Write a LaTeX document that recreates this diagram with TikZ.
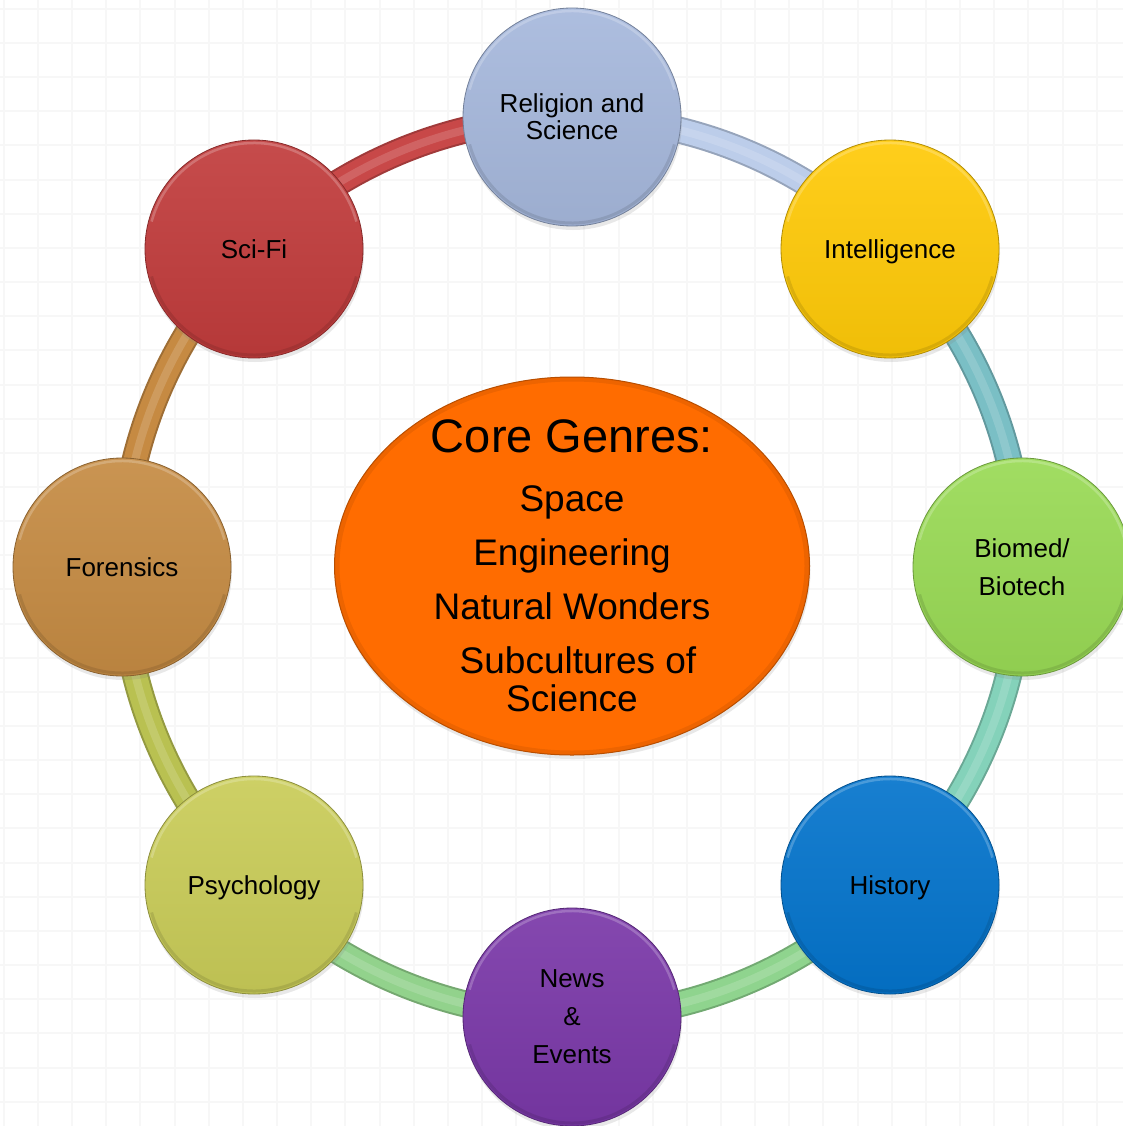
\documentclass[tikz,border=0pt]{standalone}
\usepackage{fontspec}
\setmainfont{Liberation Sans}
\usetikzlibrary{shapes.geometric,shadows}
\definecolor{relc}{HTML}{A6B8DC}
\definecolor{intc}{HTML}{FFCA08}
\definecolor{bioc}{HTML}{99DA55}
\definecolor{hisc}{HTML}{0474CC}
\definecolor{newc}{HTML}{7A38A8}
\definecolor{psyc}{HTML}{C9CC58}
\definecolor{forc}{HTML}{C58B43}
\definecolor{scic}{HTML}{C13C3C}
\definecolor{corec}{HTML}{FF6C00}
\definecolor{arcA}{HTML}{C84848}
\definecolor{arcB}{HTML}{BCCDEA}
\definecolor{arcC}{HTML}{7ABFC5}
\definecolor{arcD}{HTML}{84D2BA}
\definecolor{arcE}{HTML}{8FD48E}
\definecolor{arcF}{HTML}{92D28C}
\definecolor{arcG}{HTML}{B9C151}
\definecolor{arcH}{HTML}{C68A42}
\pgfdeclarelayer{gridlayer}
\pgfdeclarelayer{ringlayer}
\pgfsetlayers{gridlayer,ringlayer,main}
\begin{document}
\begin{tikzpicture}[x=1pt,y=-1pt,
  bub/.style={circle, minimum size=218pt, inner sep=0pt, align=center,
    font=\fontsize{26}{27}\selectfont,
    top color=#1!92!white, bottom color=#1!94!black, draw=#1!70!black, line width=0.8pt,
    drop shadow={opacity=0.18, shadow xshift=1pt, shadow yshift=-4pt},
    path picture={
      \draw[white,opacity=0.22,line width=2.5pt]
        ([shift={(165:106pt)}]path picture bounding box.center)
        arc[start angle=165,end angle=15,radius=106pt];
      \draw[black,opacity=0.10,line width=3pt]
        ([shift={(195:106pt)}]path picture bounding box.center)
        arc[start angle=195,end angle=345,radius=106pt];
    }},
  nodesc/.style={text depth=0pt},
  tube/.style={line width=27pt, draw=#1!80!black,
    postaction={draw=#1, line width=23pt},
    postaction={draw=#1!70!white, opacity=0.5, line width=8pt}},
  ring/.style={bend left=22.5, looseness=0.885},
  gridline/.style={draw=black!3, line width=2pt},
  coreshape/.style={ellipse, minimum width=475pt, minimum height=378pt, inner sep=0pt,
    fill=corec, draw=corec!72!black, line width=1pt,
    drop shadow={opacity=0.18, shadow xshift=1pt, shadow yshift=-4pt},
    path picture={
      \draw[black,opacity=0.07,line width=5pt]
        (path picture bounding box.center) ellipse[x radius=235pt, y radius=187pt];
    }},
  coretextstyle/.style={align=center, font=\fontsize{37}{54}\selectfont, text=black},
]
\useasboundingbox (0,0) rectangle (1123,1126);
\begin{pgfonlayer}{gridlayer}
  \fill[white] (0,0) rectangle (1123,1126);
  \foreach \k in {0,...,33} {
    \draw[gridline] (3.85+34.15*\k,0) -- ++(0,1126);
    \draw[gridline] (0,8.85+34.15*\k) -- ++(1123,0);
  }
\end{pgfonlayer}

\node[coreshape] (core) at (572,566) {};
\node[coretextstyle] (coretext) at (572,566)
  {{\fontsize{47}{54}\selectfont Core Genres:}\\[5pt]Space\\Engineering\\Natural Wonders\\\hspace*{12pt}Subcultures of\\[-16pt]Science};

\node[bub=relc] (rel) at (572,117) {Religion and\\Science};
\node[bub=intc, nodesc] (int) at (890,249) {Intelligence};
\node[bub=bioc, font=\fontsize{26}{38}\selectfont] (bio) at (1022,567) {Biomed/\\Biotech};
\node[bub=hisc, nodesc] (his) at (890,885) {History};
\node[bub=newc, font=\fontsize{26}{38}\selectfont] (new) at (572,1017) {News\\\&\\Events};
\node[bub=psyc, nodesc] (psy) at (254,885) {Psychology};
\node[bub=forc] (fore) at (122,567) {Forensics};
\node[bub=scic] (sci) at (254,249) {Sci-Fi};

\begin{pgfonlayer}{ringlayer}
  \draw[tube=arcA] (sci.center) to[ring] (rel.center);
  \draw[tube=arcB] (rel.center) to[ring] (int.center);
  \draw[tube=arcC] (int.center) to[ring] (bio.center);
  \draw[tube=arcD] (bio.center) to[ring] (his.center);
  \draw[tube=arcE] (his.center) to[ring] (new.center);
  \draw[tube=arcF] (new.center) to[ring] (psy.center);
  \draw[tube=arcG] (psy.center) to[ring] (fore.center);
  \draw[tube=arcH] (fore.center) to[ring] (sci.center);
\end{pgfonlayer}
\end{tikzpicture}
\end{document}
